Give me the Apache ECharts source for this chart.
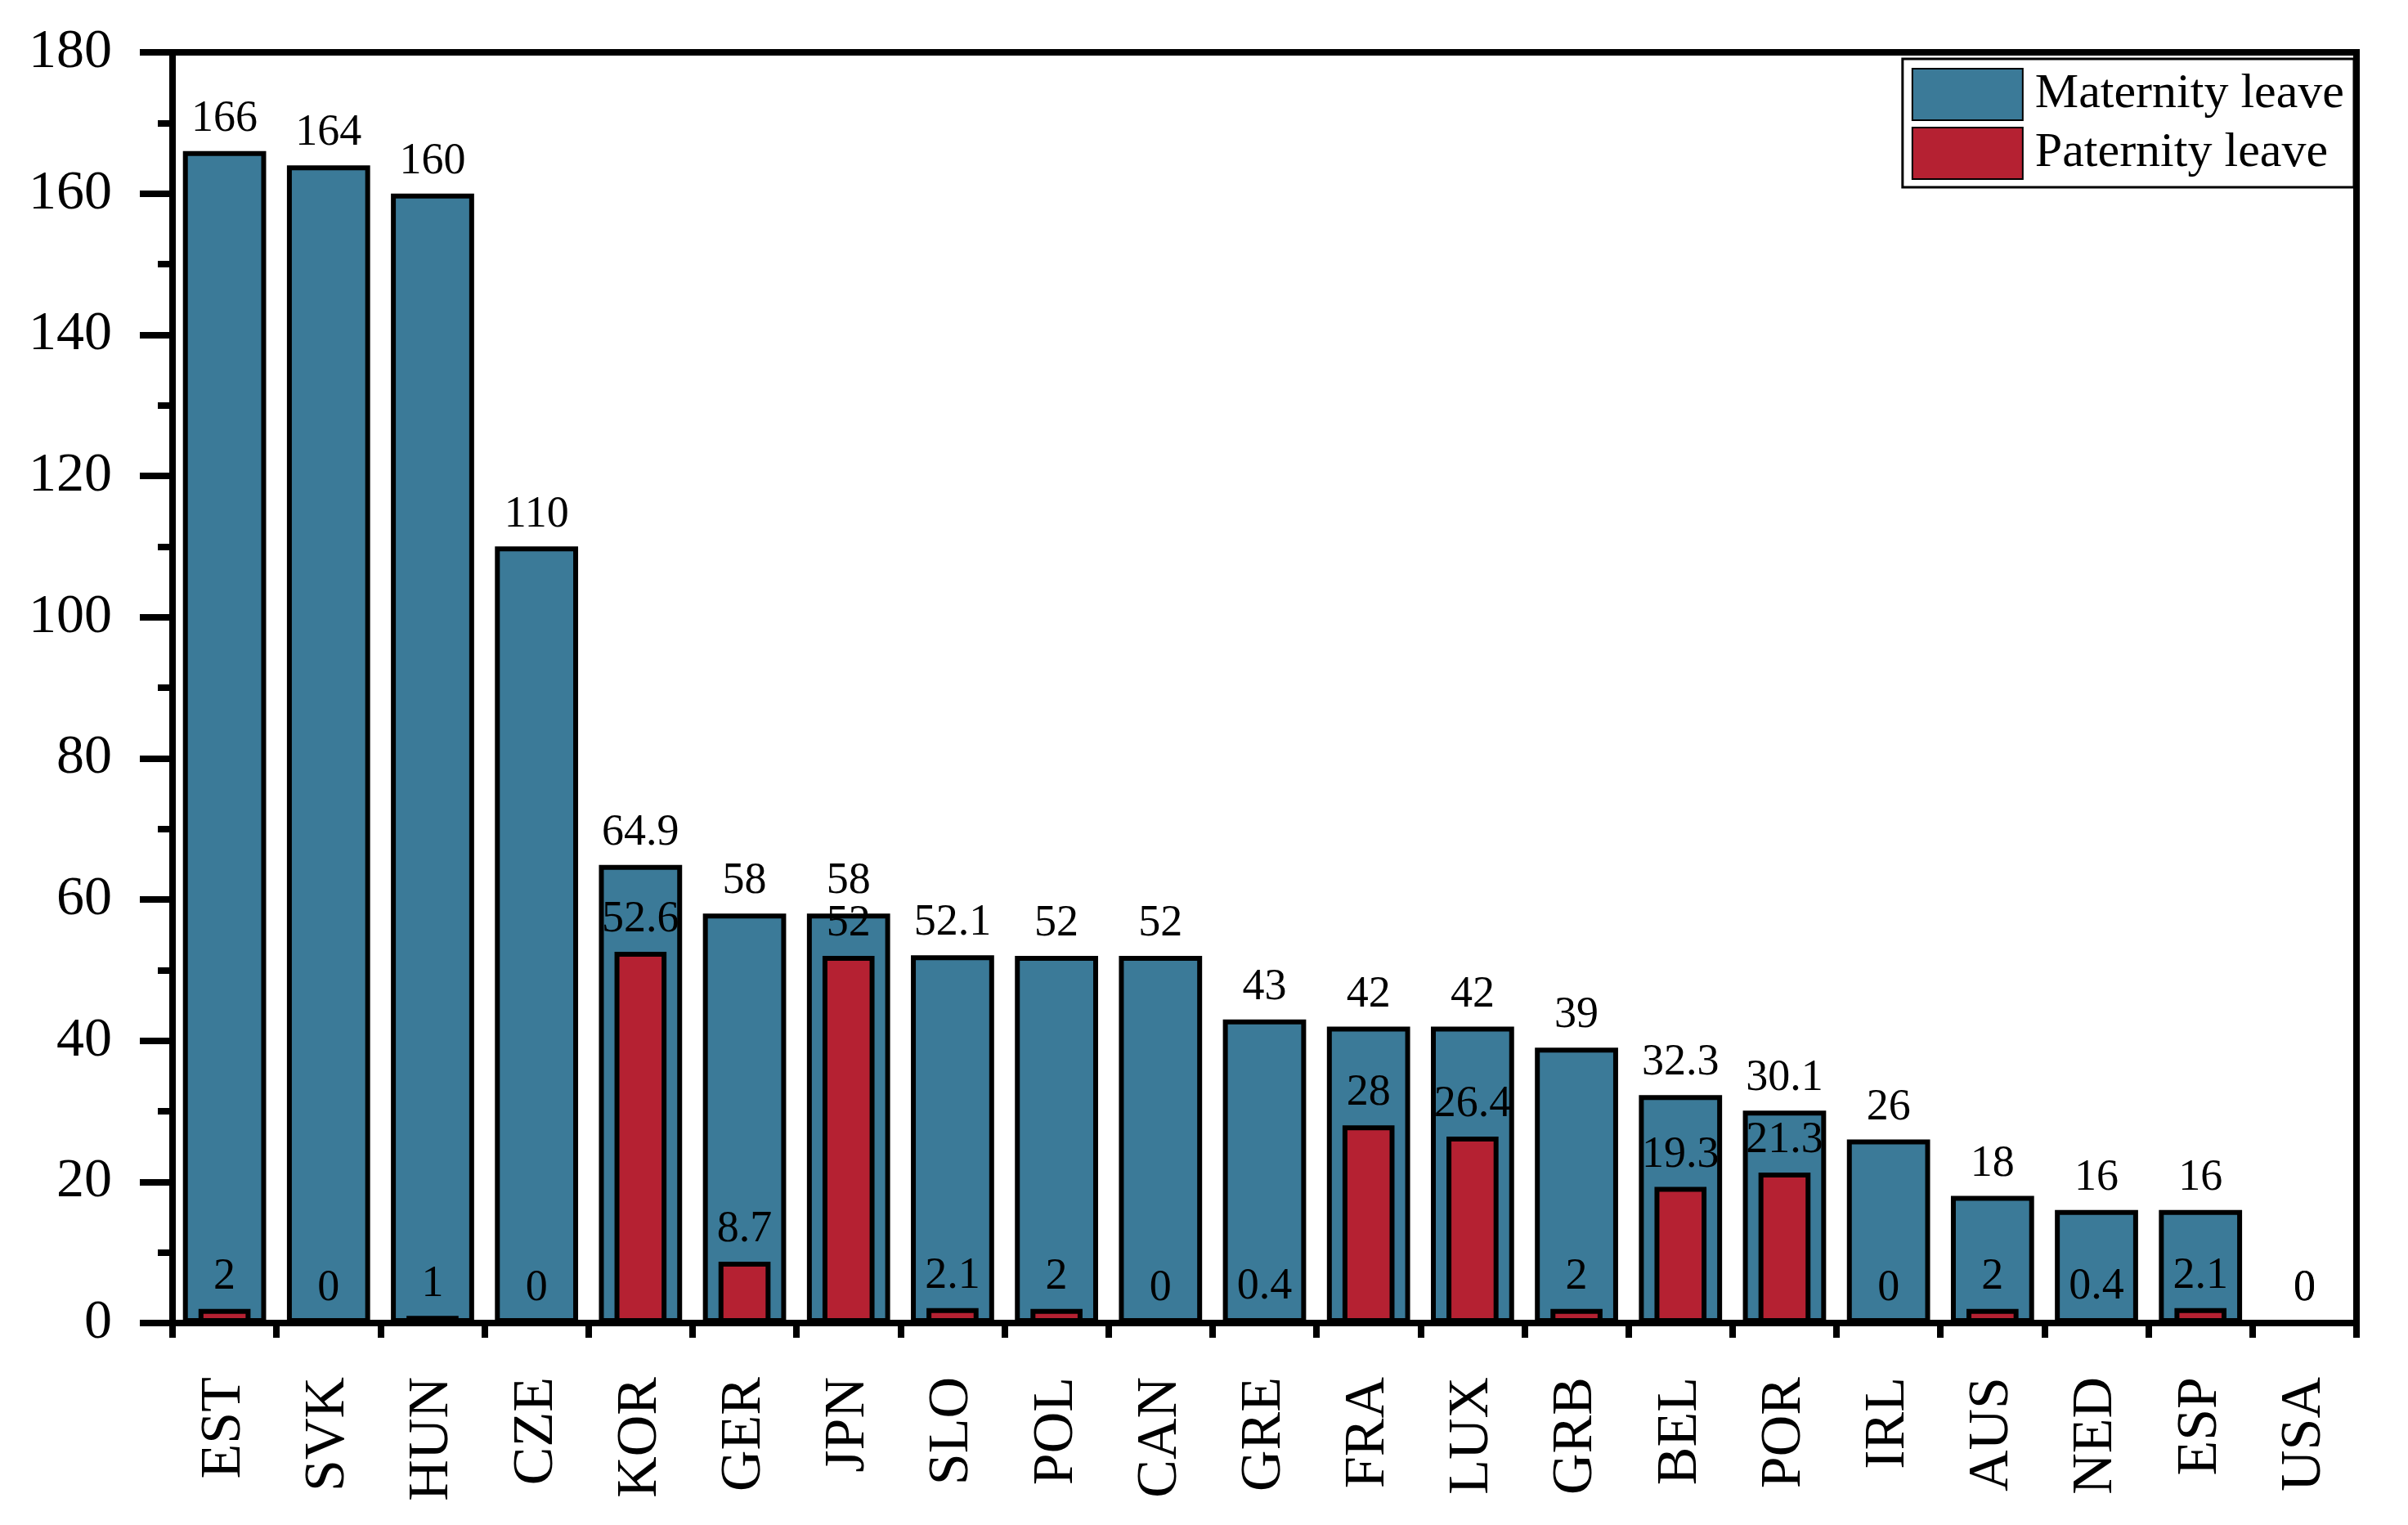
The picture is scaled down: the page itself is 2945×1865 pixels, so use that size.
<!DOCTYPE html>
<html><head><meta charset="utf-8">
<script src="https://cdn.jsdelivr.net/npm/echarts@6/dist/echarts.min.js"></script>
<style>html,body{margin:0;padding:0;background:#fff}#c{width:2945px;height:1865px}</style>
</head><body><div id="c"></div>
<script>
const categories = ['EST','SVK','HUN','CZE','KOR','GER','JPN','SLO','POL','CAN','GRE','FRA','LUX','GRB','BEL','POR','IRL','AUS','NED','ESP','USA'];
const maternity = [166,164,160,110,64.9,58,58,52.1,52,52,43,42,42,39,32.3,30.1,26,18,16,16,0];
const paternity = [2,0,1,0,52.6,8.7,52,2.1,2,0,0.4,28,26.4,2,19.3,21.3,0,2,0.4,2.1,0];
const yTicks = {min:0, max:180, interval:20};

const FONT = 'Liberation Serif';
const chart = echarts.init(document.getElementById('c'));
chart.setOption({
  animation:false,
  backgroundColor:'#fff',
  grid:{left:211, right:63, top:64, bottom:247, show:true, borderColor:'#000', borderWidth:8, backgroundColor:'transparent'},
  legend:{
    right:66, top:72, orient:'vertical',
    itemWidth:135, itemHeight:63, itemGap:7,
    padding:[11,12,9,11],
    borderColor:'#000', borderWidth:3, backgroundColor:'#fff',
    textStyle:{fontFamily:FONT, fontSize:60, color:'#000', padding:[0,0,0,10]},
    data:[{name:'Maternity leave', icon:'rect'},{name:'Paternity leave', icon:'rect'}]
  },
  xAxis:[{
    type:'category', data:categories, boundaryGap:true,
    axisLine:{lineStyle:{color:'#000', width:8}},
    axisTick:{alignWithLabel:true, length:37, lineStyle:{color:'#000', width:8}},
    axisLabel:{rotate:90, fontFamily:FONT, fontSize:70, color:'#000', margin:66}
  },{
    type:'category', data:categories, boundaryGap:true, position:'bottom',
    axisLine:{show:false},
    axisTick:{show:true, length:18, lineStyle:{color:'#000', width:8}},
    axisLabel:{show:false}
  }],
  yAxis:{
    type:'value', min:yTicks.min, max:yTicks.max, interval:yTicks.interval,
    axisLine:{show:true, lineStyle:{color:'#000', width:8}},
    axisTick:{show:true, length:40, lineStyle:{color:'#000', width:8}},
    minorTick:{show:true, splitNumber:2, length:18, lineStyle:{color:'#000', width:8}},
    splitLine:{show:false},
    axisLabel:{fontFamily:FONT, fontSize:68, color:'#000', margin:74}
  },
  series:[{
    name:'Maternity leave', type:'bar', data:maternity, barWidth:'80%', xAxisIndex:0,
    itemStyle:{color:'#3B7A98', borderColor:'#000', borderWidth:6},
    label:{show:true, position:'top', distance:12, fontFamily:FONT, fontSize:54, color:'#000'}
  },{
    name:'Paternity leave', type:'bar', data:paternity, barWidth:'50%', xAxisIndex:1,
    itemStyle:{color:'#B52132', borderColor:'#000', borderWidth:6},
    label:{show:true, position:'top', distance:12, fontFamily:FONT, fontSize:54, color:'#000'}
  }]
});
</script></body></html>
